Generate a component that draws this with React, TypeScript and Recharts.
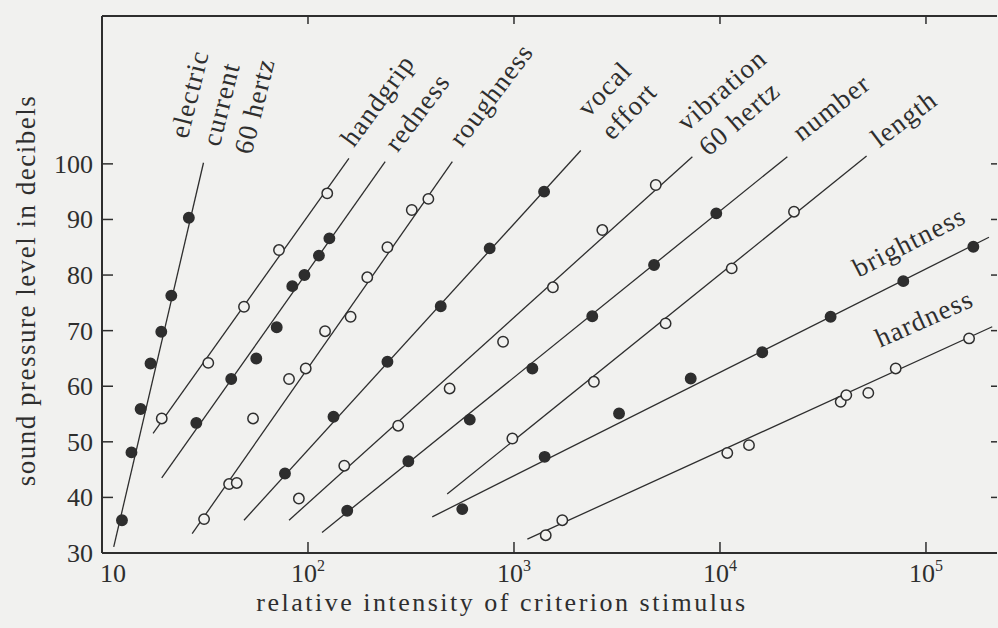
import React from 'react';
import { ScatterChart, Scatter, XAxis, YAxis } from 'recharts';

const INK = '#2e2e2e';
const PAPER = '#f1f1ef';
const SERIF = '"Liberation Serif", "Times New Roman", serif';

// axis ticks
const xTicks = [10, 100, 1000, 10000, 100000];
const yTicks = [30, 40, 50, 60, 70, 80, 90, 100];

// measured points (relative intensity, dB) and fitted line ends per continuum
const electricX = [12.5, 13.9, 15.4, 17.2, 19.4, 21.7, 26.4];
const electricY = [35.9, 48.1, 55.9, 64.1, 69.8, 76.3, 90.3];
const electricFitX = [11.4, 31.1];
const electricFitY = [31.1, 100.2];

const handgripX = [19.5, 32.8, 48.9, 72.3, 124];
const handgripY = [54.2, 64.2, 74.3, 84.5, 94.7];
const handgripFitX = [17.7, 158];
const handgripFitY = [51.5, 101.0];

const rednessX = [28.7, 42.4, 56.1, 70.5, 83.9, 96.1, 113, 127];
const rednessY = [53.4, 61.3, 65.0, 70.6, 78.0, 80.0, 83.5, 86.6];
const rednessFitX = [19.5, 237];
const rednessFitY = [43.5, 100.4];

const roughnessX = [31.3, 41.4, 45.1, 54.1, 80.9, 97.5, 121, 161, 194, 243, 319, 384];
const roughnessY = [36.1, 42.4, 42.6, 54.2, 61.3, 63.2, 69.9, 72.5, 79.6, 85.0, 91.7, 93.7];
const roughnessFitX = [27.4, 502];
const roughnessFitY = [33.5, 100.4];

const vocalX = [77.3, 133, 243, 441, 762, 1400];
const vocalY = [44.3, 54.5, 64.4, 74.4, 84.8, 95.0];
const vocalFitX = [48.9, 2110];
const vocalFitY = [35.9, 102.4];

const vibrationX = [90.3, 150, 274, 487, 885, 1545, 2684, 4878];
const vibrationY = [39.8, 45.7, 52.9, 59.6, 68.0, 77.8, 88.1, 96.2];
const vibrationFitX = [80.9, 7345];
const vibrationFitY = [35.9, 101.3];

const numberX = [155, 307, 610, 1228, 2399, 4786, 9594];
const numberY = [37.6, 46.5, 54.0, 63.2, 72.6, 81.8, 91.1];
const numberFitX = [117, 21230];
const numberFitY = [33.7, 101.3];

const lengthX = [982, 2443, 5445, 11400, 22870];
const lengthY = [50.6, 60.8, 71.3, 81.2, 91.4];
const lengthFitX = [474, 51500];
const lengthFitY = [40.6, 101.4];

const brightnessX = [561, 1409, 3236, 7211, 16040, 34440, 77600, 169800];
const brightnessY = [37.9, 47.3, 55.1, 61.4, 66.1, 72.5, 78.9, 85.1];
const brightnessFitX = [401, 202200];
const brightnessFitY = [36.5, 86.8];

const hardnessX = [1426, 1716, 10850, 13830, 38550, 41040, 52480, 71290, 161900];
const hardnessY = [33.2, 35.9, 48.0, 49.4, 57.2, 58.4, 58.8, 63.2, 68.6];
const hardnessFitX = [1161, 209700];
const hardnessFitY = [32.5, 70.7];

// where each curve's name starts (data coords)
const labelText = [
  ['electric', 'current', '60 hertz'],
  ['handgrip'],
  ['redness'],
  ['roughness'],
  ['vocal', 'effort'],
  ['vibration', '60 hertz'],
  ['number'],
  ['length'],
  ['brightness'],
  ['hardness'],
];
const labelX = [26, 167, 272, 560, 2300, 6900, 24900, 59500, 47000, 60000];
const labelY = [104.4, 102.8, 101.9, 102.8, 108.2, 105.7, 103.9, 102.8, 79.5, 66.9];
const labelAngle = [76, 54, 53, 53, 46, 41, 38, 37, 27, 24];

const zip = (xs: number[], ys: number[]) => xs.map((x, i) => ({ x, y: ys[i] }));

const series = [
  { pts: zip(electricX, electricY), fit: zip(electricFitX, electricFitY), filled: true },
  { pts: zip(handgripX, handgripY), fit: zip(handgripFitX, handgripFitY), filled: false },
  { pts: zip(rednessX, rednessY), fit: zip(rednessFitX, rednessFitY), filled: true },
  { pts: zip(roughnessX, roughnessY), fit: zip(roughnessFitX, roughnessFitY), filled: false },
  { pts: zip(vocalX, vocalY), fit: zip(vocalFitX, vocalFitY), filled: true },
  { pts: zip(vibrationX, vibrationY), fit: zip(vibrationFitX, vibrationFitY), filled: false },
  { pts: zip(numberX, numberY), fit: zip(numberFitX, numberFitY), filled: true },
  { pts: zip(lengthX, lengthY), fit: zip(lengthFitX, lengthFitY), filled: false },
  { pts: zip(brightnessX, brightnessY), fit: zip(brightnessFitX, brightnessFitY), filled: true },
  { pts: zip(hardnessX, hardnessY), fit: zip(hardnessFitX, hardnessFitY), filled: false },
];

// ticks point into the plot, labels sit outside
const BottomTick = (props: any) => {
  const { x, y, payload } = props;
  const exp = Math.round(Math.log10(payload.value));
  return (
    <g>
      {exp > 1 && <line x1={x} x2={x} y1={y} y2={y - 11} stroke={INK} strokeWidth={1.5} />}
      <text x={exp === 1 ? x + 11 : x} y={y + 29} textAnchor="middle" fontFamily={SERIF} fontSize={26} fill={INK}>
        10
        {exp > 1 && <tspan dy={-11} fontSize={16}>{exp}</tspan>}
      </text>
    </g>
  );
};

const TopTick = (props: any) => (
  <line x1={props.x} x2={props.x} y1={props.y} y2={props.y + 8} stroke={INK} strokeWidth={1.5} />
);

const LeftTick = (props: any) => {
  const { x, y, payload } = props;
  return (
    <g>
      {payload.value > 30 && <line x1={x} x2={x + 11} y1={y} y2={y} stroke={INK} strokeWidth={1.5} />}
      <text x={x - 9} y={y + 9} textAnchor="end" fontFamily={SERIF} fontSize={26} fill={INK}>
        {payload.value}
      </text>
    </g>
  );
};

const RightTick = (props: any) => (
  <line x1={props.x} x2={props.x - 6} y1={props.y} y2={props.y} stroke={INK} strokeWidth={1.5} />
);

const Empty = () => <g />;

export default function App() {
  return (
    <div style={{ position: 'absolute', left: 0, top: 0, width: 998, height: 628, background: PAPER }}>
      <ScatterChart width={998} height={628} margin={{ top: 15, right: 0, bottom: 35, left: 42 }}>
        <XAxis
          dataKey="x"
          type="number"
          scale="log"
          domain={[10, 221200]}
          allowDataOverflow
          ticks={xTicks}
          height={40}
          tickSize={0}
          tickMargin={0}
          tickLine={false}
          tick={<BottomTick />}
          axisLine={{ stroke: INK, strokeWidth: 2 }}
          label={(p: any) => (
            <text x={p.viewBox.x + 400} y={p.viewBox.y + 58} textAnchor="middle" fontFamily={SERIF} fontSize={26} letterSpacing={2.5} fill={INK}>
              relative intensity of criterion stimulus
            </text>
          )}
        />
        <XAxis
          xAxisId="top"
          orientation="top"
          dataKey="x"
          type="number"
          scale="log"
          domain={[10, 221200]}
          allowDataOverflow
          ticks={xTicks.slice(1)}
          height={1}
          tickSize={0}
          tickMargin={0}
          tickLine={false}
          tick={<TopTick />}
          axisLine={{ stroke: INK, strokeWidth: 2 }}
        />
        <YAxis
          dataKey="y"
          type="number"
          domain={[30, 126.6]}
          allowDataOverflow
          ticks={yTicks}
          width={60}
          tickSize={0}
          tickMargin={0}
          tickLine={false}
          tick={<LeftTick />}
          axisLine={{ stroke: INK, strokeWidth: 2 }}
          label={(p: any) => {
            const cx = p.viewBox.x - 7;
            const cy = p.viewBox.y + p.viewBox.height / 2 + 6;
            return (
              <text x={cx} y={cy} transform={`rotate(-90 ${cx} ${cy})`} textAnchor="middle" fontFamily={SERIF} fontSize={27} letterSpacing={1.5} fill={INK}>
                sound pressure level in decibels
              </text>
            );
          }}
        />
        <YAxis
          yAxisId="right"
          orientation="right"
          dataKey="y"
          type="number"
          domain={[30, 126.6]}
          allowDataOverflow
          ticks={yTicks.slice(1)}
          width={1}
          tickSize={0}
          tickMargin={0}
          tickLine={false}
          tick={<RightTick />}
          axisLine={false}
        />

        {series.map((s, i) => (
          <Scatter
            key={`fit-${i}`}
            data={s.fit}
            line={{ stroke: INK, strokeWidth: 1.3 }}
            shape={<Empty />}
            isAnimationActive={false}
          />
        ))}

        {series.map((s, i) => (
          <Scatter
            key={`pts-${i}`}
            data={s.pts}
            isAnimationActive={false}
            shape={(p: any) => (
              <circle cx={p.cx} cy={p.cy} r={5.2} fill={s.filled ? INK : PAPER} stroke={INK} strokeWidth={1.5} />
            )}
          />
        ))}

        {labelText.map((lines, i) => (
          <Scatter
            key={`lbl-${i}`}
            xAxisId="top"
            yAxisId="right"
            data={[{ x: labelX[i], y: labelY[i] }]}
            isAnimationActive={false}
            shape={(p: any) => (
              <text
                x={p.cx}
                y={p.cy}
                transform={`rotate(${-labelAngle[i]} ${p.cx} ${p.cy})`}
                fontFamily={SERIF}
                fontSize={27}
                letterSpacing={1.2}
                fill={INK}
              >
                {lines.map((l, j) => (
                  <tspan key={j} x={p.cx} dy={j === 0 ? 0 : 33}>{l}</tspan>
                ))}
              </text>
            )}
          />
        ))}
      </ScatterChart>
    </div>
  );
}
